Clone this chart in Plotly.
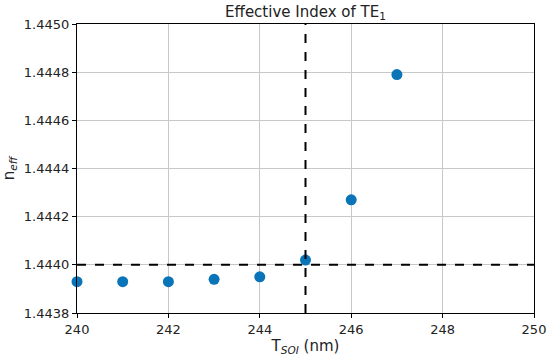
import plotly.graph_objects as go

t_soi = [240, 241, 242, 243, 244, 245, 246, 247]
n_eff = [1.44393, 1.44393, 1.44393, 1.44394, 1.44395, 1.44402, 1.44427, 1.44479]
x_ticks = [240, 242, 244, 246, 248, 250]
y_ticks = [1.4438, 1.4440, 1.4442, 1.4444, 1.4446, 1.4448, 1.4450]
y_tick_text = ["%.4f" % v for v in y_ticks]
ref_x = 245
ref_y = 1.4440

fig = go.Figure()
fig.add_trace(go.Scatter(x=t_soi, y=n_eff, mode="markers",
                         marker=dict(color="#0a74b8", size=11), cliponaxis=False,
                         showlegend=False))
fig.add_shape(type="line", x0=ref_x, x1=ref_x, y0=0, y1=1, xref="x", yref="paper",
              line=dict(color="black", width=2, dash="dash"))
fig.add_shape(type="line", x0=0, x1=1, y0=ref_y, y1=ref_y, xref="paper", yref="y",
              line=dict(color="black", width=2, dash="dash"))

axis_common = dict(showline=True, linecolor="black", linewidth=1.2, mirror=True,
                   ticks="outside", ticklen=4, tickcolor="black", automargin=False,
                   showgrid=True, gridcolor="#c8c8c8", gridwidth=1, zeroline=False,
                   tickfont=dict(size=13, color="#222"))
fig.update_xaxes(range=[240, 250], tickvals=x_ticks,
                 title=dict(text="T<sub><i>SOI</i></sub> (nm)", font=dict(size=15, color="#222"), standoff=0),
                 **axis_common)
fig.update_yaxes(range=[1.4438, 1.4450], tickvals=y_ticks, ticktext=y_tick_text,
                 title=dict(text="n<sub><i>eff</i></sub>", font=dict(size=15, color="#222"), standoff=8),
                 **axis_common)
fig.update_layout(width=550, height=362, margin=dict(l=77, r=16, t=24, b=49),
                  plot_bgcolor="white", paper_bgcolor="white",
                  font=dict(family="DejaVu Sans"),
                  title=dict(text="Effective Index of TE<sub>1</sub>", x=0.5, xanchor="center",
                             xref="paper", y=0.982, yanchor="top",
                             font=dict(size=15, color="#222"), automargin=False))
fig.write_html("out.html", config={"displayModeBar": False},
               post_script="document.body.style.margin='0';document.body.style.overflow='hidden';")
